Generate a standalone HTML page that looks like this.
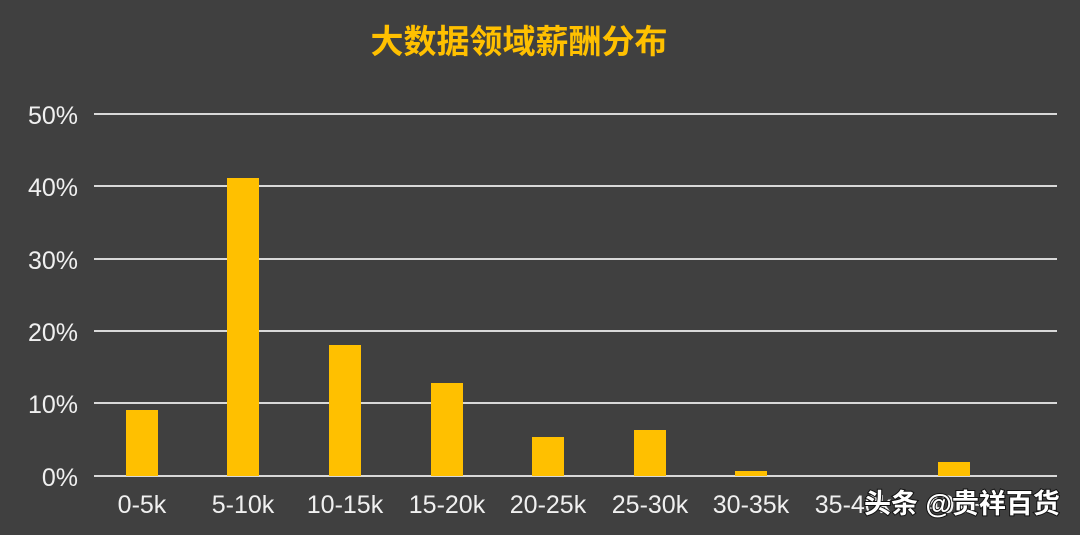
<!DOCTYPE html>
<html><head><meta charset="utf-8"><style>
html,body{margin:0;padding:0;background:#404040;}
svg{display:block;}
text{font-family:"Liberation Sans","Noto Sans CJK SC",sans-serif;}
</style></head><body>
<svg width="1080" height="535" xmlns="http://www.w3.org/2000/svg">
<rect width="1080" height="535" fill="#404040"/>
<text x="519" y="53" text-anchor="middle" font-size="33" font-weight="bold" fill="#ffc000">大数据领域薪酬分布</text>
<g stroke="#d9d9d9" stroke-width="2">
<line x1="94" y1="114" x2="1057" y2="114"/>
<line x1="94" y1="186" x2="1057" y2="186"/>
<line x1="94" y1="259" x2="1057" y2="259"/>
<line x1="94" y1="331" x2="1057" y2="331"/>
<line x1="94" y1="403" x2="1057" y2="403"/>
<line x1="94" y1="476" x2="1057" y2="476"/>
</g>
<g fill="#f0f0f0" font-size="25" text-anchor="end">
<text x="78" y="124">50%</text>
<text x="78" y="196">40%</text>
<text x="78" y="269">30%</text>
<text x="78" y="341">20%</text>
<text x="78" y="413">10%</text>
<text x="78" y="486">0%</text>
</g>
<g fill="#ffc000">
<rect x="126" y="410" width="32" height="66"/>
<rect x="227" y="178" width="32" height="298"/>
<rect x="329" y="345" width="32" height="131"/>
<rect x="431" y="383" width="32" height="93"/>
<rect x="532" y="437" width="32" height="39"/>
<rect x="634" y="430" width="32" height="46"/>
<rect x="735" y="471" width="32" height="5"/>
<rect x="938" y="462" width="32" height="14"/>
</g>
<g fill="#f0f0f0" font-size="25" text-anchor="middle">
<text x="142" y="513">0-5k</text>
<text x="243" y="513">5-10k</text>
<text x="345" y="513">10-15k</text>
<text x="447" y="513">15-20k</text>
<text x="548" y="513">20-25k</text>
<text x="650" y="513">25-30k</text>
<text x="751" y="513">30-35k</text>
<text x="853" y="513">35-40k</text>
<text x="954" y="513">40k+</text>
</g>
<text x="864" y="513" font-size="27" font-weight="bold" fill="#ffffff" stroke="#111" stroke-width="2" paint-order="stroke">头条 @贵祥百货</text>
</svg>
</body></html>
